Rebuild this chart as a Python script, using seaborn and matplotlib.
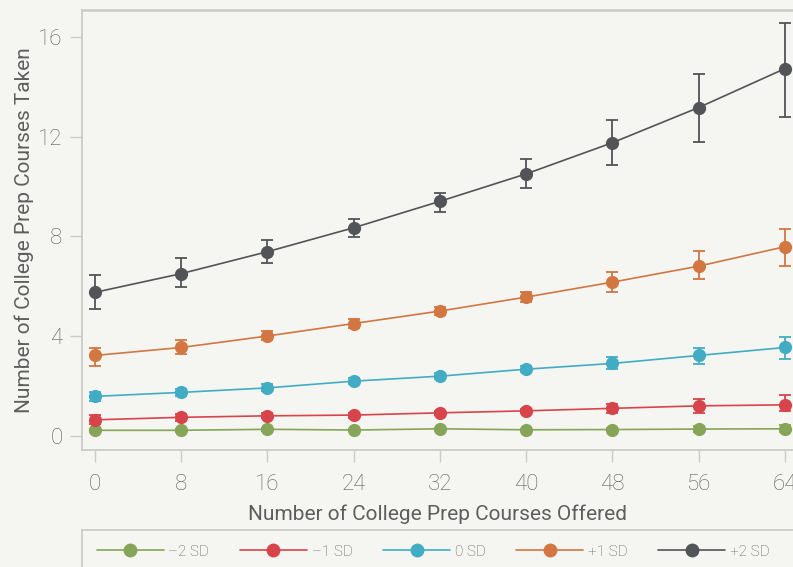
import numpy as np
import pandas as pd
import seaborn as sns
import matplotlib.pyplot as plt
from matplotlib.lines import Line2D
from matplotlib.patches import Rectangle

# ---------------- data ----------------
offered = [0, 8, 16, 24, 32, 40, 48, 56, 64]
groups = ["\u20132 SD", "\u20131 SD", "0 SD", "+1 SD", "+2 SD"]

m2_mean = [0.23, 0.23, 0.27, 0.24, 0.29, 0.25, 0.26, 0.28, 0.29]
m2_lo   = [0.18, 0.18, 0.22, 0.19, 0.24, 0.20, 0.20, 0.16, 0.15]
m2_hi   = [0.28, 0.28, 0.32, 0.29, 0.34, 0.30, 0.32, 0.40, 0.43]

m1_mean = [0.65, 0.75, 0.81, 0.84, 0.93, 1.01, 1.11, 1.21, 1.25]
m1_lo   = [0.49, 0.62, 0.71, 0.74, 0.85, 0.92, 0.92, 0.93, 0.99]
m1_hi   = [0.84, 0.88, 0.91, 0.94, 1.01, 1.10, 1.29, 1.48, 1.64]

z_mean  = [1.59, 1.75, 1.93, 2.20, 2.40, 2.68, 2.91, 3.23, 3.55]
z_lo    = [1.39, 1.61, 1.79, 2.09, 2.29, 2.57, 2.68, 2.89, 3.09]
z_hi    = [1.75, 1.89, 2.07, 2.31, 2.51, 2.79, 3.15, 3.53, 3.97]

p1_mean = [3.23, 3.55, 4.01, 4.51, 5.01, 5.57, 6.17, 6.81, 7.59]
p1_lo   = [2.79, 3.28, 3.83, 4.34, 4.86, 5.37, 5.79, 6.28, 6.80]
p1_hi   = [3.53, 3.87, 4.20, 4.68, 5.16, 5.77, 6.57, 7.41, 8.31]

p2_mean = [5.76, 6.51, 7.39, 8.35, 9.41, 10.51, 11.76, 13.17, 14.73]
p2_lo   = [5.08, 5.97, 6.95, 7.97, 8.99, 9.95, 10.87, 11.79, 12.81]
p2_hi   = [6.44, 7.12, 7.84, 8.72, 9.73, 11.09, 12.68, 14.52, 16.57]

x_ticks = [0, 8, 16, 24, 32, 40, 48, 56, 64]
y_ticks = [0, 4, 8, 12, 16]
x_label = "Number of College Prep Courses Offered"
y_label = "Number of College Prep Courses Taken"

means = [m2_mean, m1_mean, z_mean, p1_mean, p2_mean]
los = [m2_lo, m1_lo, z_lo, p1_lo, p2_lo]
his = [m2_hi, m1_hi, z_hi, p1_hi, p2_hi]

# ---------------- style ----------------
colors = ["#86a559", "#d8444b", "#43acc5", "#d27642", "#535457"]
bg = "#f5f5f1"
spine_col = "#cacac6"
text_col = "#5e5e5e"

sns.set_theme(style="white")
plt.rcParams["font.family"] = ["Roboto", "DejaVu Sans"]
plt.rcParams["font.weight"] = "light"

rows = []
for g, mm in zip(groups, means):
    for xv, yv in zip(offered, mm):
        rows.append({"offered": xv, "taken": yv, "group": g})
df = pd.DataFrame(rows)

fig = plt.figure(figsize=(7.93, 5.67), dpi=100, facecolor=bg)
W, H = 793, 567
ax = fig.add_axes([82 / W, 117 / H, 711 / W, 440 / H])
ax.set_facecolor(bg)

palette = dict(zip(groups, colors))

# error bars
for g, mm, lo, hi, c in zip(groups, means, los, his, colors):
    mm_a = np.array(mm)
    yerr = [mm_a - np.array(lo), np.array(hi) - mm_a]
    ax.errorbar(offered, mm, yerr=yerr, fmt="none", ecolor=c,
                elinewidth=1.3, capsize=4.2, capthick=1.3, zorder=2)

sns.lineplot(data=df, x="offered", y="taken", hue="group", hue_order=groups,
             palette=palette, marker="o", markersize=9.5, markeredgewidth=0,
             linewidth=1.2, ax=ax, legend=False, zorder=3)

ax.set_xlim(-1.2, 64.75)
ax.set_ylim(-0.56, 17.08)
ax.set_xticks(x_ticks)
ax.set_yticks(y_ticks)
ax.set_xticklabels([str(v) for v in x_ticks])
ax.set_yticklabels([str(v) for v in y_ticks])

for side in ["left", "bottom", "top"]:
    ax.spines[side].set_visible(True)
    ax.spines[side].set_color(spine_col)
ax.spines["left"].set_linewidth(1.3)
ax.spines["bottom"].set_linewidth(1.3)
ax.spines["top"].set_linewidth(1.8)
ax.spines["right"].set_visible(False)

ax.tick_params(axis="y", which="major", direction="out", length=9, width=1.0,
               color=spine_col, labelsize=16, labelcolor=text_col, pad=5, left=True)
ax.tick_params(axis="x", which="major", direction="out", length=8.5, width=1.0,
               color=spine_col, labelsize=16, labelcolor=text_col, pad=8.5, bottom=True)

ax.set_xlabel(x_label, fontsize=15, color=text_col, labelpad=7)
ax.set_ylabel(y_label, fontsize=15, color=text_col, labelpad=3)

# legend
handles = [Line2D([0], [0], color=c, lw=1.2, marker="o", markersize=10,
                  markeredgewidth=0) for c in colors]
fig.legend(handles, groups, loc="upper left",
           bbox_to_anchor=(82 / W, 1 - 530 / H), ncol=5, frameon=False,
           fontsize=11, labelcolor=text_col, handlelength=4.4,
           handletextpad=0.3, columnspacing=2.0, borderpad=0.95,
           borderaxespad=0)
fig.patches.append(Rectangle((82 / W, -0.1), 0.95, (567 - 530) / H + 0.1,
                             transform=fig.transFigure, fill=False,
                             edgecolor=spine_col, linewidth=1.3))

fig.savefig("out.png", dpi=100, facecolor=bg)
